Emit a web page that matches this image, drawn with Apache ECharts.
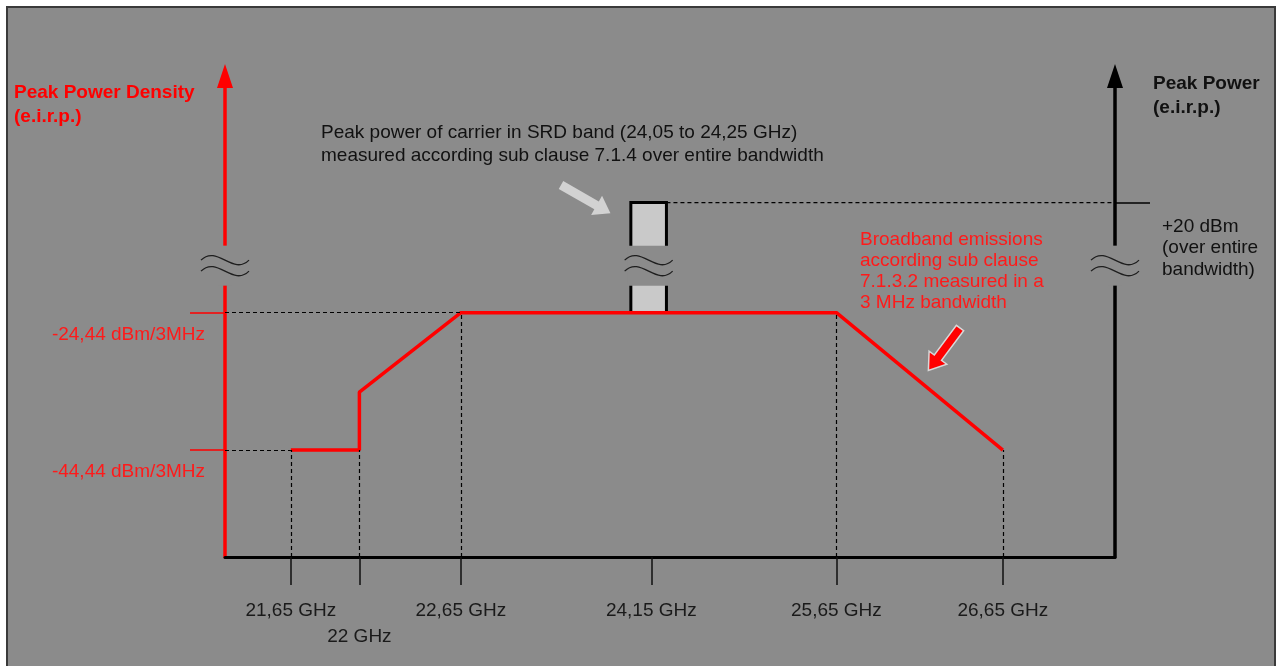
<!DOCTYPE html>
<html>
<head>
<meta charset="utf-8">
<script src="https://cdn.jsdelivr.net/npm/echarts@6.0.0/dist/echarts.min.js"></script>
<style>
html, body { margin: 0; padding: 0; background: #fff; overflow: hidden; }
#frame { position: absolute; left: 6px; top: 6px; width: 1266px; height: 700px; background: #8b8b8b; border: 2px solid #3a3a3a; }
#chart { position: absolute; left: 0; top: 0; width: 1276px; height: 666px; }
</style>
</head>
<body>
<div id="frame"></div>
<div id="chart"></div>
<script>
// the frequency axis of the figure is not to scale, so every frequency
// gets its place along the axis (0..100)
var freqLabels = ['21,65 GHz', '22 GHz', '22,65 GHz', '24,15 GHz', '25,65 GHz', '26,65 GHz'];
var freqPos = [7.4, 15.1, 26.5, 47.9, 68.7, 87.4];
var freqRow = [0, 1, 0, 0, 0, 0];   // 22 GHz label sits one row lower
var dropLevels = [-44.44, -44.44, -24.44, null, -24.44, -44.44];

// broadband emission mask, dBm/3MHz
var maskX = [7.4, 15.1, 15.1, 26.5, 68.7, 87.4];
var maskY = [-44.44, -44.44, -36, -24.44, -24.44, -44.44];
var densityTicks = [-44.44, -24.44];
var plateau = -24.44;

// SRD carrier 24,05..24,25 GHz, peak power +20 dBm
var carrierX = [45.6, 49.6];
var carrierPower = 20;
var powerTicks = [20];

// where the axes are broken
var breakX = [0, 47.6, 100];
var breakLevel = -17.6;

var BG = '#8b8b8b';
var RED = '#ff0000';
var FONT = '"Liberation Sans", Arial, sans-serif';
var FS = 19;

function nearest(list, v){
	var best = 0;
	for (var i = 1; i < list.length; i++) {
		if (Math.abs(list[i] - v) < Math.abs(list[best] - v)) best = i;
	}
	return best;
}

function arrowPts(len, shaft, head, headLen){
	var s = shaft / 2, h = head / 2, b = len - headLen;
	return [[0, -s], [b, -s], [b, -h], [len, 0], [b, h], [b, s], [0, s]];
}

function rowPos(row){
	return freqPos.filter(function(x, i){ return freqRow[i] === row; });
}

function freqLabel(v){
	return freqLabels[nearest(freqPos, v)];
}

var chart = echarts.init(document.getElementById('chart'));

var guides = [
	[{coord: [0, densityTicks[1]]}, {coord: [freqPos[2], densityTicks[1]]}],
	[{coord: [0, densityTicks[0]]}, {coord: [freqPos[0], densityTicks[0]]}]
];
freqPos.forEach(function(x, i){
	if (dropLevels[i] !== null) {
		guides.push([{coord: [x, -60]}, {coord: [x, dropLevels[i]]}]);
	}
});

var option = {
	animation: false,
	grid: { left: 225, right: 161, top: 76, bottom: 109 },
	xAxis: [{
		type: 'value', min: 0, max: 100,
		axisLine: { onZero: false, lineStyle: { color: '#000', width: 3 } },
		axisTick: { show: true, customValues: freqPos, length: 28, lineStyle: { color: '#111', width: 1.5 } },
		axisLabel: {
			customValues: rowPos(0), margin: 44, color: '#1a1a1a', fontSize: FS, fontFamily: FONT,
			formatter: freqLabel
		},
		splitLine: { show: false }
	}, {
		// second label row only
		type: 'value', min: 0, max: 100, position: 'bottom',
		axisLine: { show: false, onZero: false },
		axisTick: { show: false },
		axisLabel: {
			customValues: rowPos(1), margin: 70, color: '#1a1a1a', fontSize: FS, fontFamily: FONT,
			formatter: freqLabel
		},
		splitLine: { show: false }
	}],
	yAxis: [{
		type: 'value', position: 'left', min: -60, max: 10,
		axisLine: { show: true, onZero: false, symbol: ['none', 'triangle'], symbolSize: [16, 24], lineStyle: { color: RED, width: 3.5 } },
		axisTick: { show: true, customValues: densityTicks, length: 35, lineStyle: { color: RED, width: 1.5 } },
		axisLabel: {
			customValues: densityTicks, margin: 20, color: '#ff1a1a', fontSize: FS, fontFamily: FONT,
			verticalAlign: 'top', lineHeight: 22, padding: [11, 0, 0, 0],
			formatter: function(v){ return v.toFixed(2).replace('.', ',') + ' dBm/3MHz'; }
		},
		splitLine: { show: false }
	}, {
		type: 'value', position: 'right', min: -50, max: 45,
		axisLine: { show: true, onZero: false, symbol: ['none', 'triangle'], symbolSize: [16, 24], lineStyle: { color: '#000', width: 3.5 } },
		axisTick: { show: true, customValues: powerTicks, length: 35, lineStyle: { color: '#000', width: 1.5 } },
		axisLabel: {
			customValues: powerTicks, margin: 47, color: '#111', fontSize: FS, fontFamily: FONT,
			align: 'left', verticalAlign: 'top', lineHeight: 21.5, padding: [13, 0, 0, 0],
			formatter: function(v){ return '+' + v + ' dBm\n(over entire\nbandwidth)'; }
		},
		splitLine: { show: false }
	}],
	series: [
		{
			// carrier box, top on the power axis, foot on the mask plateau
			type: 'custom', yAxisIndex: 1, z: 2, clip: false, silent: true,
			encode: { x: [0, 1], y: 2 },
			data: [[carrierX[0], carrierX[1], carrierPower]],
			renderItem: function(params, api){
				var tl = api.coord([api.value(0), api.value(2)]);
				var tr = api.coord([api.value(1), api.value(2)]);
				var bottom = chart.convertToPixel({ yAxisIndex: 0 }, plateau);
				if (bottom == null || isNaN(bottom)) bottom = 313;
				return {
					type: 'group',
					children: [{
						type: 'rect',
						shape: { x: tl[0], y: tl[1], width: tr[0] - tl[0], height: bottom - tl[1] },
						style: { fill: '#c9c9c9' }
					}, {
						type: 'polyline',
						shape: { points: [[tl[0], bottom], [tl[0], tl[1]], [tr[0], tr[1]], [tr[0], bottom]] },
						style: { stroke: '#000', lineWidth: 3, fill: null }
					}]
				};
			}
		},
		{
			type: 'line', yAxisIndex: 1, z: 2, symbol: 'none', silent: true,
			data: [[carrierX[1], carrierPower], [100, carrierPower]],
			lineStyle: { color: '#000', width: 1.2, type: [4, 3] }
		},
		{
			type: 'line', yAxisIndex: 0, z: 3, symbol: 'none', silent: true,
			data: maskX.map(function(x, i){ return [x, maskY[i]]; }),
			lineStyle: { color: RED, width: 3.5 },
			markLine: {
				silent: true, symbol: ['none', 'none'], label: { show: false },
				lineStyle: { color: '#000', width: 1.2, type: [4, 3] },
				data: guides
			}
		},
		{
			// break marks
			type: 'custom', yAxisIndex: 0, z: 5, clip: false, silent: true,
			data: breakX.map(function(x){ return [x, breakLevel]; }),
			renderItem: function(params, api){
				var p = api.coord([api.value(0), api.value(1)]);
				var half = 7;
				if (params.dataIndex === 1) {
					var a = api.coord([carrierX[0], 0]);
					var b = api.coord([carrierX[1], 0]);
					half = (b[0] - a[0]) / 2 + 3;
				}
				function wave(dy){
					return {
						type: 'bezierCurve',
						shape: { x1: p[0] - 24, y1: p[1] + dy, cpx1: p[0] - 8, cpy1: p[1] + dy - 16, cpx2: p[0] + 8, cpy2: p[1] + dy + 16, x2: p[0] + 24, y2: p[1] + dy },
						style: { stroke: '#1e1e1e', lineWidth: 1.3, fill: 'none' }
					};
				}
				return {
					type: 'group',
					children: [{
						type: 'rect',
						shape: { x: p[0] - half, y: p[1] - 20, width: half * 2, height: 40 },
						style: { fill: BG }
					}, wave(-5.5), wave(5.5)]
				};
			}
		}
	],
	graphic: [
		{ type: 'text', left: 14, top: 81, style: { text: 'Peak Power Density\n(e.i.r.p.)', fill: RED, fontSize: FS, fontWeight: 'bold', fontFamily: FONT, lineHeight: 24 } },
		{ type: 'text', left: 1153, top: 72, style: { text: 'Peak Power\n(e.i.r.p.)', fill: '#111', fontSize: FS, fontWeight: 'bold', fontFamily: FONT, lineHeight: 24 } },
		{ type: 'text', left: 321, top: 121.5, style: { text: 'Peak power of carrier in SRD band (24,05 to 24,25 GHz)\nmeasured according sub clause 7.1.4 over entire bandwidth', fill: '#111', fontSize: FS, fontFamily: FONT, lineHeight: 23 } },
		{ type: 'text', left: 860, top: 229.5, style: { text: 'Broadband emissions\naccording sub clause\n7.1.3.2 measured in a\n3 MHz bandwidth', fill: '#ff1a1a', fontSize: FS, fontFamily: FONT, lineHeight: 21 } },
		{ type: 'polygon', x: 561, y: 185, rotation: -0.52, shape: { points: arrowPts(57, 9, 22, 16) }, style: { fill: '#d2d2d2' } },
		{ type: 'polygon', x: 960, y: 328, rotation: -2.21, shape: { points: arrowPts(53, 9, 22, 16) }, style: { fill: RED, stroke: '#d8d8d8', lineWidth: 1.5 } }
	]
};

chart.setOption(option);
</script>
</body>
</html>
